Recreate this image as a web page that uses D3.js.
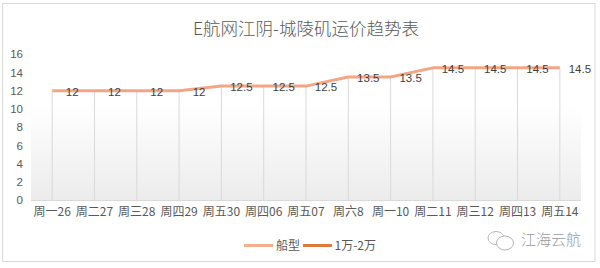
<!DOCTYPE html>
<html><head><meta charset="utf-8">
<script src="https://cdn.jsdelivr.net/npm/d3@7/dist/d3.min.js"></script>
<style>body{margin:0;background:#fff;}svg{display:block;}</style>
</head><body>
<svg id="c" width="600" height="268"></svg>
<script>
const categories = ["周一26","周二27","周三28","周四29","周五30","周四06","周五07","周六8","周一10","周二11","周三12","周四13","周五14"];
const seriesShip = [12,12,12,12,12.5,12.5,12.5,13.5,13.5,14.5,14.5,14.5,14.5];
const yTicks = [0,2,4,6,8,10,12,14,16];
const title = "E航网江阴-城陵矶运价趋势表";
const legendNames = ["船型","1万-2万"];

const svg = d3.select("#c");
const font = "'Noto Sans CJK SC','Liberation Sans',sans-serif";
const L = 31, R = 581, T = 54.2, B = 200;

svg.append("rect").attr("x",2.5).attr("y",3.5).attr("width",592.5).attr("height",258)
  .attr("fill","#fff").attr("stroke","#d9d9d9");

const defs = svg.append("defs");
const g = defs.append("linearGradient").attr("id","bg").attr("x1",0).attr("y1",0).attr("x2",0).attr("y2",1);
g.append("stop").attr("offset","0%").attr("stop-color","#ffffff");
g.append("stop").attr("offset","20%").attr("stop-color","#ffffff");
g.append("stop").attr("offset","100%").attr("stop-color","#ececec");

const x = d3.scaleBand().domain(categories).range([L,R]);
const y = d3.scaleLinear().domain([0,16]).range([B,T]);
const cx = d => x(d) + x.bandwidth()/2;

svg.append("rect").attr("x",L).attr("y",y(13)).attr("width",R-L).attr("height",B-y(13)).attr("fill","url(#bg)");

svg.append("text").attr("x",306).attr("y",35).attr("text-anchor","middle")
  .attr("font-family",font).attr("font-size",17.5).attr("font-weight",300).attr("fill","#595959").text(title);

svg.append("g").selectAll("line").data(categories).join("line")
  .attr("x1",d=>cx(d)).attr("x2",d=>cx(d))
  .attr("y1",(d,i)=>y(seriesShip[i])).attr("y2",B)
  .attr("stroke","#d9d9d9").attr("stroke-width",1);

svg.append("line").attr("x1",L).attr("x2",R).attr("y1",B+0.5).attr("y2",B+0.5).attr("stroke","#d9d9d9");

const yAxis = d3.axisLeft(y).tickValues(yTicks).tickSize(0).tickPadding(0);
const ya = svg.append("g").attr("transform",`translate(23,0)`).call(yAxis);
ya.select(".domain").remove();
ya.selectAll("text").attr("font-family","'Liberation Sans',sans-serif").attr("font-size",11.5).attr("fill","#595959");

const xAxis = d3.axisBottom(x).tickSize(0).tickPadding(0);
const xa = svg.append("g").attr("transform",`translate(0,207)`).call(xAxis);
xa.select(".domain").remove();
xa.selectAll("text").attr("font-family",font).attr("font-size",12).attr("fill","#595959");

const line = d3.line().x((d,i)=>cx(categories[i])).y(d=>y(d));
svg.append("path").datum(seriesShip).attr("d",line).attr("fill","none")
  .attr("stroke","#f4a584").attr("stroke-width",3).attr("stroke-linejoin","round");

svg.append("g").selectAll("text").data(seriesShip).join("text")
  .attr("x",(d,i)=>cx(categories[i])+20).attr("y",d=>y(d)+1)
  .attr("text-anchor","middle").attr("dominant-baseline","central")
  .attr("font-family","'Liberation Sans',sans-serif").attr("font-size",11.5).attr("fill","#404040")
  .text(d=>d);

const lg = svg.append("g");
lg.append("line").attr("x1",244).attr("x2",273).attr("y1",245.5).attr("y2",245.5).attr("stroke","#f4b08e").attr("stroke-width",3);
lg.append("text").attr("x",276).attr("y",250).attr("font-family",font).attr("font-size",12).attr("fill","#595959").text(legendNames[0]);
lg.append("line").attr("x1",303).attr("x2",332).attr("y1",245.5).attr("y2",245.5).attr("stroke","#dd7a3c").attr("stroke-width",3);
lg.append("text").attr("x",334.5).attr("y",250).attr("font-family",font).attr("font-size",12).attr("fill","#595959").text(legendNames[1]);

const wm = svg.append("g").attr("fill","none").attr("stroke","#b5b5b5").attr("stroke-width",1);
wm.append("ellipse").attr("cx",496).attr("cy",238).attr("rx",8).attr("ry",6.5);
wm.append("ellipse").attr("cx",505).attr("cy",243).attr("rx",8.5).attr("ry",7).attr("fill","#fff");
svg.append("text").attr("x",521).attr("y",245).attr("font-family",font).attr("font-size",15).attr("font-weight",300)
  .attr("fill","#9a9a9a").text("江海云航");
</script>
</body></html>
